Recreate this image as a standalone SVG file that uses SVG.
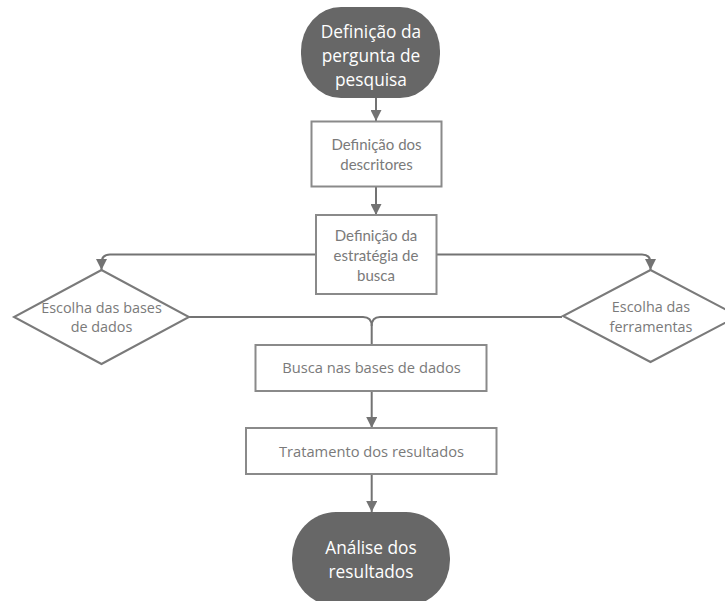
<svg xmlns="http://www.w3.org/2000/svg" width="725" height="601" viewBox="0 0 725 601">
<defs>
<marker id="arr" viewBox="0 0 10 10" refX="10" refY="5" markerWidth="5.5" markerHeight="5.5" orient="auto" markerUnits="strokeWidth">
<path d="M0,0 L10,5 L0,10 Z" fill="#737373"/>
</marker>
<style>
.term{fill:#676767;}
.termt{font-family:"Open Sans","Noto Sans",sans-serif;font-size:17.3px;fill:#ffffff;text-anchor:middle;}
.box{fill:#ffffff;stroke:#8a8a8a;stroke-width:2;}
.boxt{font-family:Lato,"Open Sans",sans-serif;font-size:15px;fill:#7a7a7a;text-anchor:middle;}
.boxo{font-family:"Open Sans","Noto Sans",sans-serif;font-size:14.7px;fill:#7a7a7a;text-anchor:middle;}
.diat{font-family:"Open Sans","Noto Sans",sans-serif;font-size:14.4px;fill:#7a7a7a;text-anchor:middle;}
.dia{fill:#ffffff;stroke:#7a7a7a;stroke-width:2;}
.con{fill:none;stroke:#737373;stroke-width:2;}
</style>
</defs>
<rect width="725" height="601" fill="#ffffff"/>
<g id="connectors">
<path class="con" d="M376,98 L376,121" marker-end="url(#arr)"/>
<path class="con" d="M376,187 L376,215" marker-end="url(#arr)"/>
<path class="con" d="M316,254.5 L110,254.5 Q101.5,254.5 101.5,263 L101.5,270" marker-end="url(#arr)"/>
<path class="con" d="M436,254.5 L642,254.5 Q650.5,254.5 650.5,263 L650.5,270" marker-end="url(#arr)"/>
<path class="con" d="M189,317 L363,317 Q371.7,317 371.7,326 L371.7,345"/>
<path class="con" d="M562,317 L380,317 Q371.7,317 371.7,326"/>
<path class="con" d="M371.7,391 L371.7,428" marker-end="url(#arr)"/>
<path class="con" d="M371.7,474 L371.7,512" marker-end="url(#arr)"/>
</g>
<g id="start">
<rect class="term" x="301" y="7" width="139" height="91" rx="40" ry="44"/>
<text class="termt" x="371" y="38">Definição da</text>
<text class="termt" x="371" y="62">pergunta de</text>
<text class="termt" x="371" y="86">pesquisa</text>
</g>
<g id="descritores">
<rect class="box" x="311.5" y="121.5" width="130" height="65"/>
<text class="boxt" x="376.5" y="150">Definição dos</text>
<text class="boxt" x="376.5" y="170">descritores</text>
</g>
<g id="estrategia">
<rect class="box" x="316" y="215" width="120.5" height="79"/>
<text class="boxt" x="376" y="241">Definição da</text>
<text class="boxt" x="376" y="261">estratégia de</text>
<text class="boxt" x="376" y="281">busca</text>
</g>
<g id="bases">
<polygon class="dia" points="101.5,270 189,317 101.5,364 14,317"/>
<text class="diat" x="101.5" y="313">Escolha das bases</text>
<text class="diat" x="101.5" y="332">de dados</text>
</g>
<g id="ferramentas">
<polygon class="dia" points="650.5,270 738,316 650.5,362 563,316"/>
<text class="diat" x="651" y="312">Escolha das</text>
<text class="diat" x="651" y="332">ferramentas</text>
</g>
<g id="busca">
<rect class="box" x="255.5" y="345" width="231" height="46"/>
<text class="boxo" x="371.5" y="373">Busca nas bases de dados</text>
</g>
<g id="tratamento">
<rect class="box" x="246" y="428" width="250.5" height="46"/>
<text class="boxo" x="371.5" y="457">Tratamento dos resultados</text>
</g>
<g id="analise">
<rect class="term" x="292" y="512" width="158" height="94" rx="44" ry="46"/>
<text class="termt" x="371" y="554">Análise dos</text>
<text class="termt" x="371" y="578">resultados</text>
</g>
</svg>
